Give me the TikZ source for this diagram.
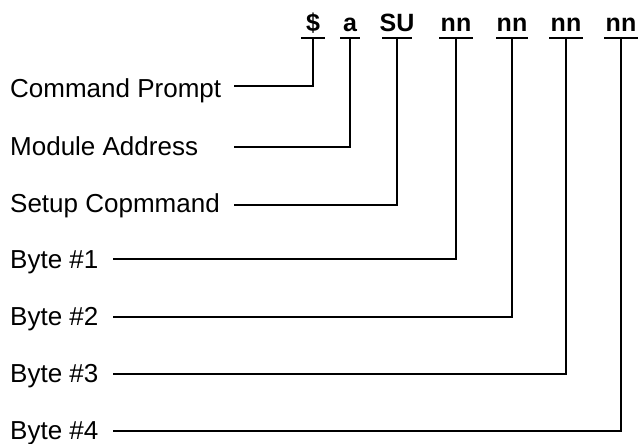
\documentclass[tikz,border=0pt]{standalone}
\usepackage{fontspec}
\setmainfont{Liberation Sans}
\begin{document}
\begin{tikzpicture}[x=1pt,y=-1pt,
  lbl/.style={anchor=base west, inner sep=0pt, font=\fontsize{26}{30}\selectfont},
  tok/.style={anchor=base, inner sep=0pt, font=\fontsize{25}{30}\selectfont\bfseries},
  wire/.style={line width=1.8pt, line cap=rect}]
\useasboundingbox (0,0) rectangle (638,444);
% tokens
\node[tok] (t1) at (313,32) {\$};
\node[tok] (t2) at (350,32) {a};
\node[tok] (t3) at (397,32) {SU};
\node[tok] (t4) at (456,32) {nn};
\node[tok] (t5) at (512,32) {nn};
\node[tok] (t6) at (566,32) {nn};
\node[tok] (t7) at (621,32) {nn};
% underline centres
\coordinate (u1) at (313,38);
\coordinate (u2) at (350,38);
\coordinate (u3) at (397,38);
\coordinate (u4) at (456,38);
\coordinate (u5) at (512,38);
\coordinate (u6) at (566,38);
\coordinate (u7) at (621,38);
\draw[wire] ([xshift=-11.5pt]u1) -- ([xshift=11.5pt]u1);
\draw[wire] ([xshift=-9.5pt]u2) -- ([xshift=9.5pt]u2);
\draw[wire] ([xshift=-14pt]u3) -- ([xshift=14pt]u3);
\draw[wire] ([xshift=-16.5pt]u4) -- ([xshift=16.5pt]u4);
\draw[wire] ([xshift=-15.5pt]u5) -- ([xshift=15.5pt]u5);
\draw[wire] ([xshift=-16.5pt]u6) -- ([xshift=16.5pt]u6);
\draw[wire] ([xshift=-16pt]u7) -- ([xshift=16pt]u7);
% labels
\node[lbl] (l1) at (10,98) {Command Prompt};
\node[lbl] (l2) at (10,155) {Module Address};
\node[lbl] (l3) at (10,212) {Setup Copmmand};
\node[lbl] (l4) at (10,268) {Byte \#1};
\node[lbl] (l5) at (10,325) {Byte \#2};
\node[lbl] (l6) at (10,382) {Byte \#3};
\node[lbl] (l7) at (10,439) {Byte \#4};
% line starts
\coordinate (s1) at (235,86);
\coordinate (s2) at (235,147);
\coordinate (s3) at (235,205);
\coordinate (s4) at (114,259);
\coordinate (s5) at (114,317);
\coordinate (s6) at (114,374);
\coordinate (s7) at (114,431);
% connectors
\draw[wire] (u1) |- (s1);
\draw[wire] (u2) |- (s2);
\draw[wire] (u3) |- (s3);
\draw[wire] (u4) |- (s4);
\draw[wire] (u5) |- (s5);
\draw[wire] (u6) |- (s6);
\draw[wire] (u7) |- (s7);
\end{tikzpicture}
\end{document}
